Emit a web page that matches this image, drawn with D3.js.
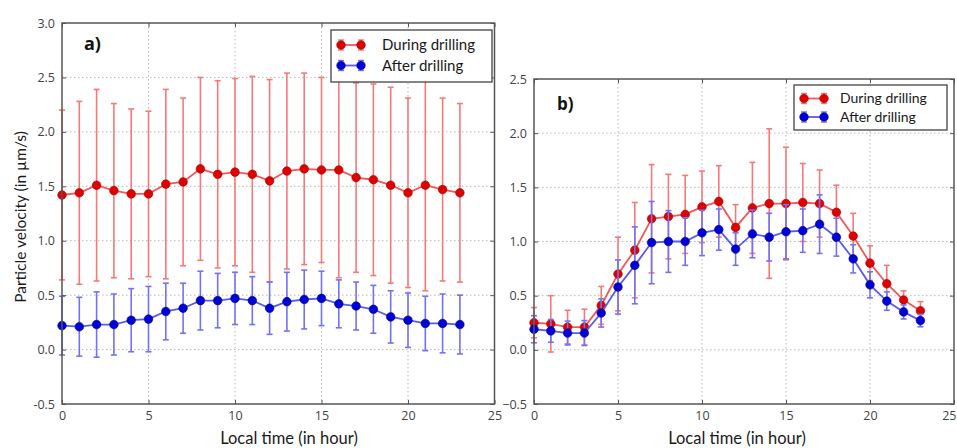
<!DOCTYPE html>
<html>
<head>
<meta charset="utf-8">
<script src="https://cdn.jsdelivr.net/npm/d3@7"></script>
<style>
  html, body { margin: 0; padding: 0; background: #fff; }
  svg { display: block; }
  text { font-family: Lato, "Open Sans", "DejaVu Sans", sans-serif; }
</style>
</head>
<body>
<svg id="chart" width="957" height="448"></svg>
<script>
// Hour of day (local time)
const hours = d3.range(0, 24);

// Panel a: mean particle velocity and its spread (µm/s)
const duringA    = [1.42,1.44,1.51,1.46,1.43,1.43,1.52,1.54,1.66,1.61,1.63,1.61,1.55,1.64,1.66,1.65,1.65,1.58,1.56,1.51,1.44,1.51,1.47,1.44];
const duringAErr = [0.78,0.84,0.88,0.80,0.78,0.76,0.87,0.77,0.84,0.86,0.86,0.90,0.93,0.90,0.88,0.85,0.99,0.87,0.88,0.90,0.87,0.97,0.84,0.82];
const afterA     = [0.22,0.21,0.23,0.23,0.27,0.28,0.35,0.38,0.45,0.45,0.47,0.45,0.38,0.44,0.46,0.47,0.42,0.40,0.37,0.30,0.27,0.24,0.24,0.23];
const afterAErr  = [0.27,0.27,0.30,0.28,0.29,0.30,0.26,0.23,0.27,0.25,0.24,0.22,0.24,0.27,0.27,0.25,0.22,0.22,0.22,0.24,0.25,0.25,0.27,0.27];

// Panel b
const duringB    = [0.25,0.24,0.21,0.21,0.41,0.70,0.92,1.21,1.23,1.25,1.32,1.37,1.13,1.31,1.35,1.35,1.36,1.35,1.27,1.05,0.80,0.61,0.46,0.36];
const duringBErr = [0.14,0.26,0.155,0.165,0.175,0.34,0.44,0.50,0.39,0.36,0.33,0.33,0.21,0.42,0.69,0.52,0.36,0.31,0.25,0.21,0.16,0.17,0.085,0.085];
const afterB     = [0.19,0.175,0.155,0.155,0.34,0.58,0.78,0.99,1.00,1.00,1.08,1.11,0.93,1.07,1.04,1.09,1.10,1.16,1.04,0.84,0.60,0.45,0.35,0.27];
const afterBErr  = [0.125,0.105,0.11,0.115,0.13,0.25,0.355,0.38,0.285,0.22,0.21,0.19,0.15,0.22,0.22,0.25,0.20,0.27,0.175,0.13,0.12,0.085,0.065,0.057];

// Tick values
const xTicks  = [0, 5, 10, 15, 20, 25];
const yTicksA = [-0.5, 0.0, 0.5, 1.0, 1.5, 2.0, 2.5, 3.0];
const yTicksB = [-0.5, 0.0, 0.5, 1.0, 1.5, 2.0, 2.5];

const seriesNames = ["During drilling", "After drilling"];

const svg = d3.select("#chart");
const W = +svg.attr("width");

const style = {
  red:  { line: "#f25858", bar: "#f47a7a", dot: "#e00000", edge: "#9a0000" },
  blue: { line: "#5a5af0", bar: "#7272f2", dot: "#0000d8", edge: "#00007a" }
};

function panel(opt) {
  const g = svg.append("g");
  const x = d3.scaleLinear().domain([0, 25]).range([opt.left, opt.right]);
  const y = d3.scaleLinear().domain(opt.yDomain).range([opt.bottom, opt.top]);

  // dotted grid
  g.append("g").selectAll("line.gx").data(xTicks.slice(1, -1)).join("line")
    .attr("x1", d => x(d)).attr("x2", d => x(d))
    .attr("y1", opt.top).attr("y2", opt.bottom)
    .attr("stroke", "#b8b8b8").attr("stroke-width", 1).attr("stroke-dasharray", "1.5,2.5");
  g.append("g").selectAll("line.gy").data(opt.yTicks.slice(1, -1)).join("line")
    .attr("x1", opt.left).attr("x2", opt.right)
    .attr("y1", d => y(d)).attr("y2", d => y(d))
    .attr("stroke", "#b8b8b8").attr("stroke-width", 1).attr("stroke-dasharray", "1.5,2.5");

  function series(vals, errs, c) {
    const s = g.append("g");
    const cap = 3;
    const eb = s.append("g").attr("stroke", c.bar).attr("stroke-width", 1.6);
    hours.forEach((h, i) => {
      const lo = y(vals[i] - errs[i]), hi = y(vals[i] + errs[i]);
      eb.append("line").attr("x1", x(h)).attr("x2", x(h)).attr("y1", lo).attr("y2", hi);
      eb.append("line").attr("x1", x(h) - cap).attr("x2", x(h) + cap).attr("y1", lo).attr("y2", lo);
      eb.append("line").attr("x1", x(h) - cap).attr("x2", x(h) + cap).attr("y1", hi).attr("y2", hi);
    });
    const line = d3.line().x((d, i) => x(hours[i])).y(d => y(d));
    s.append("path").datum(vals).attr("d", line)
      .attr("fill", "none").attr("stroke", c.line).attr("stroke-width", 1.8);
    s.selectAll("circle").data(vals).join("circle")
      .attr("cx", (d, i) => x(hours[i])).attr("cy", d => y(d)).attr("r", 4.3)
      .attr("fill", c.dot).attr("stroke", c.edge).attr("stroke-width", 0.6);
  }
  series(opt.during, opt.duringErr, style.red);
  series(opt.after, opt.afterErr, style.blue);

  // frame
  g.append("rect").attr("x", opt.left).attr("y", opt.top)
    .attr("width", opt.right - opt.left).attr("height", opt.bottom - opt.top)
    .attr("fill", "none").attr("stroke", "#555").attr("stroke-width", 1.5);

  // axes (inward ticks)
  const ax = g.append("g").attr("transform", `translate(0,${opt.bottom})`)
    .call(d3.axisBottom(x).tickValues(xTicks).tickSize(-4).tickPadding(7).tickFormat(d3.format("d")));
  const axTop = g.append("g").attr("transform", `translate(0,${opt.top})`)
    .call(d3.axisTop(x).tickValues(xTicks).tickSize(-4).tickFormat(""));
  const ay = g.append("g").attr("transform", `translate(${opt.left},0)`)
    .call(d3.axisLeft(y).tickValues(opt.yTicks).tickSize(-4).tickPadding(7)
      .tickFormat(d => d < 0 ? opt.minus + Math.abs(d).toFixed(1) : d.toFixed(1)));
  const ayR = g.append("g").attr("transform", `translate(${opt.right},0)`)
    .call(d3.axisRight(y).tickValues(opt.yTicks).tickSize(-4).tickFormat(""));
  [ax, axTop, ay, ayR].forEach(a => {
    a.select(".domain").remove();
    a.selectAll(".tick line").attr("stroke", "#555").attr("stroke-width", 1);
    a.selectAll("text").attr("fill", "#444").attr("font-size", 12.5)
      .style("font-family", "'Open Sans', Lato, sans-serif");
  });
  // keep an x tick label that would run past the page edge inside it
  ax.selectAll(".tick text").each(function () {
    const t = d3.select(this);
    const b = this.getBBox();
    const tx = x(t.datum());
    if (tx + b.x + b.width > W - 1) {
      t.attr("text-anchor", "end").attr("x", W - 1 - tx);
    }
  });

  // panel tag
  g.append("text").attr("x", opt.tagX).attr("y", opt.tagY)
    .attr("font-size", opt.tagSize).attr("font-weight", "bold").attr("fill", "#111")
    .style("font-family", "'Open Sans', Lato, sans-serif")
    .text(opt.tag);

  // x label
  g.append("text").attr("x", opt.xLabelX).attr("y", 444)
    .attr("text-anchor", "middle").attr("font-size", 16.5).attr("fill", "#1a1a1a")
    .text("Local time (in hour)");

  // legend
  const L = opt.legend;
  const lg = g.append("g");
  lg.append("rect").attr("x", L.x).attr("y", L.y).attr("width", L.w).attr("height", L.h)
    .attr("fill", "#fff").attr("stroke", "#444").attr("stroke-width", 1.3);
  [style.red, style.blue].forEach((c, i) => {
    const cy = L.y + L.row0 + i * L.dy;
    const x1 = L.x + L.g0, x2 = L.x + L.g1;
    [x1, x2].forEach(px => {
      lg.append("line").attr("x1", px).attr("x2", px).attr("y1", cy - 5).attr("y2", cy + 5)
        .attr("stroke", c.bar).attr("stroke-width", 1.4);
      lg.append("line").attr("x1", px - 3).attr("x2", px + 3).attr("y1", cy - 5).attr("y2", cy - 5)
        .attr("stroke", c.bar).attr("stroke-width", 1.4);
      lg.append("line").attr("x1", px - 3).attr("x2", px + 3).attr("y1", cy + 5).attr("y2", cy + 5)
        .attr("stroke", c.bar).attr("stroke-width", 1.4);
    });
    lg.append("line").attr("x1", x1).attr("x2", x2).attr("y1", cy).attr("y2", cy)
      .attr("stroke", c.line).attr("stroke-width", 1.8);
    [x1, x2].forEach(px => lg.append("circle").attr("cx", px).attr("cy", cy).attr("r", 4.3)
      .attr("fill", c.dot).attr("stroke", c.edge).attr("stroke-width", 0.6));
    lg.append("text").attr("x", L.x + L.tx).attr("y", cy).attr("dy", "0.35em")
      .attr("font-size", L.fs).attr("fill", "#1a1a1a").text(seriesNames[i]);
  });
}

panel({
  left: 62, right: 494.5, top: 23, bottom: 404, yDomain: [-0.5, 3.0], yTicks: yTicksA,
  during: duringA, duringErr: duringAErr, after: afterA, afterErr: afterAErr,
  minus: "-", tag: "a)", tagX: 84, tagY: 50, tagSize: 18, xLabelX: 289,
  legend: { x: 331, y: 30, w: 161, h: 52, row0: 15, dy: 20.5, g0: 10, g1: 30, tx: 51, fs: 15 }
});

panel({
  left: 534, right: 954, top: 79, bottom: 404, yDomain: [-0.5, 2.5], yTicks: yTicksB,
  during: duringB, duringErr: duringBErr, after: afterB, afterErr: afterBErr,
  minus: "\u2212", tag: "b)", tagX: 557, tagY: 110, tagSize: 17, xLabelX: 737,
  legend: { x: 794, y: 85, w: 153, h: 45, row0: 13.5, dy: 18.5, g0: 10, g1: 30, tx: 46, fs: 14 }
});

// shared y label
svg.append("text")
  .attr("transform", "translate(21,217) rotate(-90)")
  .attr("dy", "0.35em")
  .attr("text-anchor", "middle").attr("font-size", 15.5).attr("fill", "#1a1a1a")
  .text("Particle velocity (in µm/s)");
</script>
</body>
</html>
